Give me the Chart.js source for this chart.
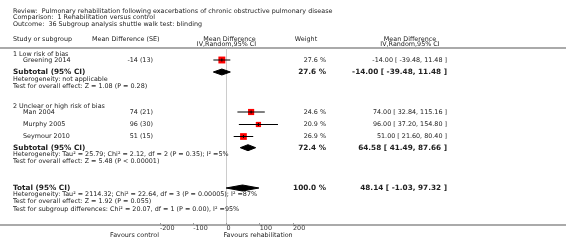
<!DOCTYPE html>
<html>
<head>
<meta charset="utf-8">
<script src="https://cdn.jsdelivr.net/npm/chart.js@4"></script>
<style>
  body { margin: 0; background: #fff; }
</style>
</head>
<body>
<canvas id="chart" width="566" height="248"></canvas>
<script>
// forest plot data
var studies = ['Greening 2014', 'Man 2004', 'Murphy 2005', 'Seymour 2010']
var studyGroup = [0, 1, 1, 1]
var md = [-14, 74, 96, 51]
var se = [13, 21, 30, 15]
var weights = [27.6, 24.6, 20.9, 26.9]
var ciLow = [-39.48, 32.84, 37.20, 21.60]
var ciHigh = [11.48, 115.16, 154.80, 80.40]

var subgroups = ['1 Low risk of bias', '2 Unclear or high risk of bias']
var subMd = [-14.00, 64.58]
var subLow = [-39.48, 41.49]
var subHigh = [11.48, 87.66]
var subWeight = [27.6, 72.4]
var subHet = ['Heterogeneity: not applicable',
    'Heterogeneity: Tau\u00b2 = 25.79; Chi\u00b2 = 2.12, df = 2 (P = 0.35); I\u00b2 =5%']
var subTest = ['Test for overall effect: Z = 1.08 (P = 0.28)',
    'Test for overall effect: Z = 5.48 (P < 0.00001)']

var totalMd = 48.14
var totalLow = -1.03
var totalHigh = 97.32
var totalWeight = 100.0
var totalNotes = ['Heterogeneity: Tau\u00b2 = 2114.32; Chi\u00b2 = 22.64, df = 3 (P = 0.00005); I\u00b2 =87%',
    'Test for overall effect: Z = 1.92 (P = 0.055)',
    'Test for subgroup differences: Chi\u00b2 = 20.07, df = 1 (P = 0.00), I\u00b2 =95%']

var tickValues = [-200, -100, 0, 100, 200]
var titleLines = ['Review:  Pulmonary rehabilitation following exacerbations of chronic obstructive pulmonary disease',
    'Comparison:  1 Rehabilitation versus control',
    'Outcome:  36 Subgroup analysis shuttle walk test: blinding']
var favours = ['Favours control', 'Favours rehabilitation']

// layout (rows in px below the top rule)
var studyRows = [12, 64, 76.5, 88.5]
var groupRows = [6.5, 58.7]
var subRows = [24, 99.7]
var subNoteRows = [[31, 38.7], [106.3, 112.9]]
var totalRow = 140
var totalNoteRows = [146.7, 153.7, 161.3]
var titleRows = [-37, -30.5, -24]
var headRows = [-9, -4]
var favRow = 187
var col = { left: 13, indent: 23, seHead: 92, seRight: 153, weightHead: 306, weightRight: 326, ciHead: 410, ciRight: 447 }

var FONT = '"DejaVu Sans", Verdana, sans-serif'
var TEXT = '#222'

function ciText(m, lo, hi) {
    return m.toFixed(2) + ' [ ' + lo.toFixed(2) + ', ' + hi.toFixed(2) + ' ]'
}

function diamond(m, lo, hi, row) {
    var h = 3
    return [{ x: lo, y: row }, { x: m, y: row - h }, { x: hi, y: row }, { x: m, y: row + h }, { x: lo, y: row }]
}

var datasets = []

// confidence interval lines
studies.forEach(function (s, i) {
    datasets.push({
        type: 'line', order: 1,
        data: [{ x: ciLow[i], y: studyRows[i] }, { x: ciHigh[i], y: studyRows[i] }],
        borderColor: '#000', borderWidth: 1, pointRadius: 0, fill: false
    })
})

// weighted squares
datasets.push({
    type: 'scatter', order: 3,
    data: md.map(function (v, i) { return { x: v, y: studyRows[i] } }),
    pointStyle: 'rect',
    pointRadius: weights.map(function (w) { return w * 0.25 / Math.SQRT2 }),
    backgroundColor: '#ff0000', borderWidth: 0
})

// little mark at each estimate
datasets.push({
    type: 'scatter', order: 0,
    data: md.map(function (v, i) { return { x: v, y: studyRows[i] } }),
    pointStyle: 'line', rotation: 90, pointRadius: 1.5,
    borderColor: '#000', borderWidth: 1
})

// diamonds
subgroups.forEach(function (g, i) {
    datasets.push({
        type: 'line', order: 2,
        data: diamond(subMd[i], subLow[i], subHigh[i], subRows[i]),
        borderColor: '#000', borderWidth: 1, backgroundColor: '#000',
        pointRadius: 0, fill: 'shape', tension: 0
    })
})
datasets.push({
    type: 'line', order: 2,
    data: diamond(totalMd, totalLow, totalHigh, totalRow),
    borderColor: '#000', borderWidth: 1, backgroundColor: '#000',
    pointRadius: 0, fill: 'shape', tension: 0
})

var backdrop = {
    id: 'backdrop',
    beforeDraw: function (chart) {
        var c = chart.ctx
        c.save()
        c.fillStyle = '#fff'
        c.fillRect(0, 0, chart.width, chart.height)
        c.strokeStyle = '#aaa'
        c.lineWidth = 2
        c.beginPath()
        c.moveTo(0, chart.chartArea.top)
        c.lineTo(chart.width, chart.chartArea.top)
        c.moveTo(0, chart.chartArea.bottom)
        c.lineTo(chart.width, chart.chartArea.bottom)
        c.stroke()
        c.restore()
    }
}

var texts = {
    id: 'texts',
    afterDraw: function (chart) {
        var c = chart.ctx
        var y = chart.scales.y
        var x = chart.scales.x
        var Y = function (r) { return y.getPixelForValue(r) }
        function put(t, px, r, align, bold) {
            c.font = (bold ? 'bold 7.3px ' : '6.4px ') + FONT
            c.textAlign = align || 'left'
            c.fillText(t, px, Y(r))
        }
        c.save()
        c.fillStyle = TEXT
        c.textBaseline = 'middle'

        titleLines.forEach(function (t, i) { put(t, col.left, titleRows[i]) })

        put('Study or subgroup', col.left, headRows[0])
        put('Mean Difference (SE)', col.seHead, headRows[0])
        var mid = x.getPixelForValue(0)
        put('Mean Difference', mid + 3, headRows[0], 'center')
        put('IV,Random,95% CI', mid, headRows[1], 'center')
        put('Weight', col.weightHead, headRows[0], 'center')
        put('Mean Difference', col.ciHead, headRows[0], 'center')
        put('IV,Random,95% CI', col.ciHead, headRows[1], 'center')

        subgroups.forEach(function (g, gi) {
            put(g, col.left, groupRows[gi])
            studies.forEach(function (s, i) {
                if (studyGroup[i] !== gi) return
                put(s, col.indent, studyRows[i])
                put(md[i] + ' (' + se[i] + ')', col.seRight, studyRows[i], 'right')
                put(weights[i].toFixed(1) + ' %', col.weightRight, studyRows[i], 'right')
                put(ciText(md[i], ciLow[i], ciHigh[i]), col.ciRight, studyRows[i], 'right')
            })
            put('Subtotal (95% CI)', col.left, subRows[gi], 'left', true)
            put(subWeight[gi].toFixed(1) + ' %', col.weightRight, subRows[gi], 'right', true)
            put(ciText(subMd[gi], subLow[gi], subHigh[gi]), col.ciRight, subRows[gi], 'right', true)
            put(subHet[gi], col.left, subNoteRows[gi][0])
            put(subTest[gi], col.left, subNoteRows[gi][1])
        })

        put('Total (95% CI)', col.left, totalRow, 'left', true)
        put(totalWeight.toFixed(1) + ' %', col.weightRight, totalRow, 'right', true)
        put(ciText(totalMd, totalLow, totalHigh), col.ciRight, totalRow, 'right', true)
        totalNotes.forEach(function (t, i) { put(t, col.left, totalNoteRows[i]) })

        put(favours[0], x.getPixelForValue(-200) - 1, favRow, 'right')
        put(favours[1], x.getPixelForValue(0) - 3, favRow, 'left')
        c.restore()
    }
}

document.addEventListener('DOMContentLoaded', function () {
    var ctx = document.getElementById('chart').getContext('2d')
    new Chart(ctx, {
        type: 'scatter',
        data: { datasets: datasets },
        options: {
            responsive: false,
            animation: false,
            devicePixelRatio: 1,
            layout: { padding: { left: 160, right: 273, top: 48, bottom: 11 } },
            plugins: { legend: { display: false }, tooltip: { enabled: false } },
            events: [],
            scales: {
                x: {
                    type: 'linear', min: -200, max: 200, position: 'bottom',
                    afterFit: function (s) { s.height = 12 },
                    afterBuildTicks: function (s) { s.ticks = tickValues.map(function (v) { return { value: v } }) },
                    ticks: {
                        align: 'start', padding: 2, maxRotation: 0, autoSkip: false,
                        font: { size: 6.4, family: FONT }, color: '#333'
                    },
                    grid: {
                        drawOnChartArea: true, tickLength: -2, tickColor: '#999', lineWidth: 1,
                        color: function (c) { return c.tick && c.tick.value === 0 ? '#ccc' : 'rgba(0,0,0,0)' }
                    },
                    border: { display: false }
                },
                y: { type: 'linear', min: 0, max: 177, reverse: true, display: false }
            }
        },
        plugins: [backdrop, texts]
    })
})
</script>
</body>
</html>
